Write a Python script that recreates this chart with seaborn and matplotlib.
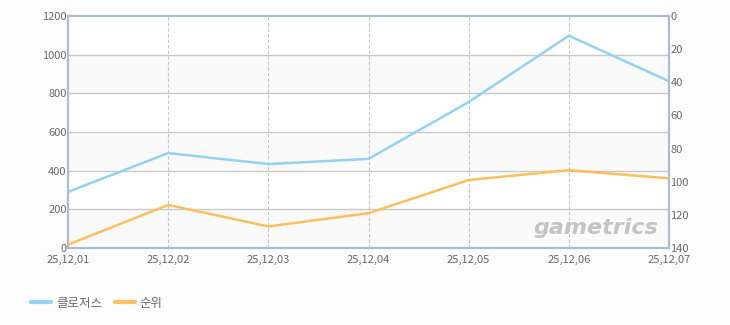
import matplotlib
matplotlib.use("Agg")
import matplotlib.pyplot as plt
import seaborn as sns
import pandas as pd
import numpy as np
from matplotlib.lines import Line2D

dates = ["25,12,01", "25,12,02", "25,12,03", "25,12,04", "25,12,05", "25,12,06", "25,12,07"]
closers = [290, 491, 434, 461, 755, 1098, 863]
rank = [138, 114, 127, 119, 99, 93, 98]
series_names = ["클로저스", "순위"]
left_ticks = [0, 200, 400, 600, 800, 1000, 1200]
right_ticks = [0, 20, 40, 60, 80, 100, 120, 140]

sns.set_theme(style="white")
plt.rcParams['font.family'] = ['Noto Sans CJK KR', 'DejaVu Sans']

blue = "#94d2f2"
orange = "#ffbf5e"
frame = "#a9bdd1"
txt = "#6a6a6a"

fig = plt.figure(figsize=(7.3, 3.25), dpi=100, facecolor="#fcfcfc")
ax = fig.add_axes([68/730, (325-248)/325, 601/730, 232/325])
ax.set_facecolor("white")

df = pd.DataFrame({"x": np.arange(len(dates)), "closers": closers, "rank": rank})

# alternating bands
for i in range(0, len(left_ticks) - 1):
    if i % 2 == 0:
        ax.axhspan(left_ticks[i], left_ticks[i+1], color="#fafafa", zorder=0, lw=0)
for t in left_ticks[1:-1]:
    ax.axhline(t, color="#c8c8c8", lw=1, zorder=1)
for i in range(1, len(dates) - 1):
    ax.axvline(i, color="#c4c4c4", lw=0.8, ls=(0, (3, 2)), zorder=1)

sns.lineplot(data=df, x="x", y="closers", ax=ax, color=blue, lw=1.8, zorder=3, legend=False)
ax.set_xlim(0, len(dates) - 1)
ax.set_ylim(0, 1200)
ax.set_yticks(left_ticks)
ax.set_xticks(range(len(dates)))
ax.set_xticklabels(dates)
ax.set_xlabel("")
ax.set_ylabel("")

ax2 = ax.twinx()
sns.lineplot(data=df, x="x", y="rank", ax=ax2, color=orange, lw=1.8, zorder=3, legend=False)
ax2.set_ylim(140, 0)
ax2.set_yticks(right_ticks)
ax2.set_ylabel("")
ax2.set_xlim(0, len(dates) - 1)

for a in (ax, ax2):
    for s in a.spines.values():
        s.set_color(frame)
        s.set_linewidth(1.5)
    a.tick_params(axis="both", length=0, pad=1, labelsize=8, labelcolor=txt)

ax.tick_params(axis="x", pad=5)

ax2.text(0.982, 0.045, "gametrics", transform=ax.transAxes, ha="right", va="bottom",
         fontsize=16, fontweight="bold", style="italic", color="#c4c4c4",
         family="DejaVu Sans", zorder=2)

# legend
handles = [Line2D([0], [0], color=blue, lw=3), Line2D([0], [0], color=orange, lw=3)]
fig.legend(handles, series_names, loc="lower left", bbox_to_anchor=(20/730, 4/325),
           ncol=2, frameon=False, fontsize=9, labelcolor=txt, handlelength=1.6,
           handletextpad=0.4, columnspacing=1.0)

fig.savefig("out.png", dpi=100, facecolor=fig.get_facecolor())
